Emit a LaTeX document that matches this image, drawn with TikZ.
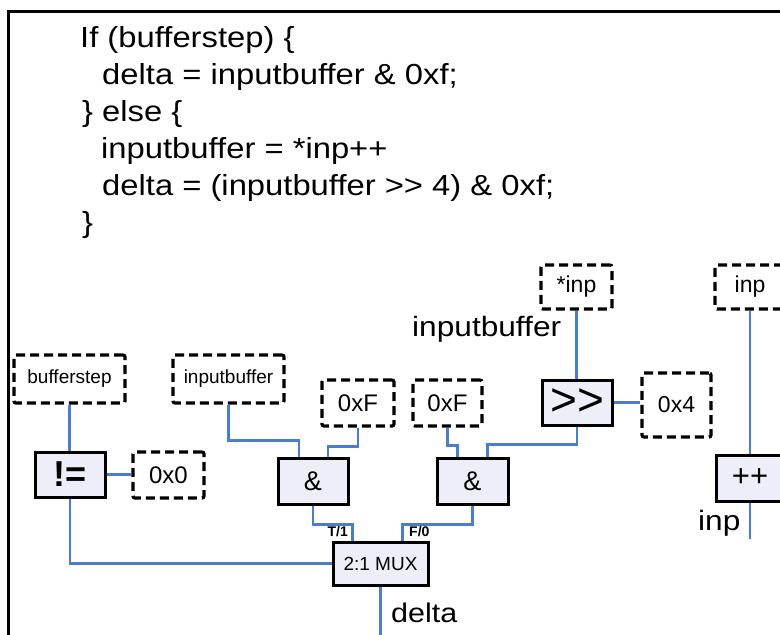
\documentclass[tikz,border=0pt]{standalone}
\usepackage{fontspec}
\setmainfont[FakeStretch=1.13]{Liberation Sans}
\newfontfamily\boxfont{Liberation Sans}
\definecolor{wireblue}{RGB}{74,126,198}
\definecolor{opfill}{RGB}{238,238,248}
\begin{document}
\begin{tikzpicture}[x=1pt,y=-1pt,
  fs/.style={font=\fontsize{#1}{#1}\selectfont},
  bfs/.style={font=\boxfont\fontsize{#1}{#1}\selectfont},
  wire/.style={draw=wireblue,line width=2.6pt},
  constbox/.style={draw=black,line width=3.2pt,dash pattern=on 9pt off 5pt,
    rounded corners=2pt,inner sep=0pt,fill=white},
  opbox/.style={draw=black,line width=3pt,fill=opfill,inner sep=0pt},
  codeline/.style={anchor=base west,inner sep=0pt,fs=29},
  lbl/.style={inner sep=0pt}]
\useasboundingbox (0,0) rectangle (780,635);
\clip (0,0) rectangle (780,635);
\fill[white] (0,0) rectangle (780,635);

% outer frame
\draw[line width=3pt] (8,11) rectangle (820,680);

% source code
\node[codeline] (c1) at (80,47)  {If (bufferstep) \{};
\node[codeline] (c2) at (102,84) {delta = inputbuffer \& 0xf;};
\node[codeline] (c3) at (82,121) {\} else \{};
\node[codeline] (c4) at (101,158) {inputbuffer = *inp++};
\node[codeline] (c5) at (102,195) {delta = (inputbuffer >{}> 4) \& 0xf;};
\node[codeline] (c6) at (82,232) {\}};

% constants and variables
\node[constbox,minimum width=111pt,minimum height=48pt,bfs=19] (bstep) at (69.5,379) {bufferstep};
\node[constbox,minimum width=111pt,minimum height=48pt,bfs=19] (ibuf) at (228.5,379) {inputbuffer};
\node[constbox,minimum width=72pt,minimum height=46pt,bfs=24] (xf1) at (358,403) {0xF};
\node[constbox,minimum width=69pt,minimum height=46pt,bfs=24] (xf2) at (447.5,403) {0xF};
\node[constbox,minimum width=71pt,minimum height=44pt,bfs=23] (sinp) at (576.5,287) {*inp};
\node[constbox,minimum width=70pt,minimum height=44pt,bfs=23] (inpb) at (750,287) {inp};
\node[constbox,minimum width=69pt,minimum height=64pt,bfs=23] (x4) at (676.5,405) {0x4};
\node[constbox,minimum width=71pt,minimum height=46pt,bfs=24] (x0) at (168.5,475) {0x0};

% operators
\node[opbox,minimum width=70pt,minimum height=45pt,font=\boxfont\fontsize{36}{36}\selectfont\bfseries] (ne) at (70,474.5) {!=};
\node[opbox,minimum width=70pt,minimum height=46pt,bfs=27] (and1) at (313,481) {\&};
\node[opbox,minimum width=71pt,minimum height=46pt,bfs=27] (and2) at (472.5,481) {\&};
\node[opbox,minimum width=70pt,minimum height=45pt,bfs=46] (shr) at (577,402.5) {>{}>};
\node[opbox,minimum width=68pt,minimum height=46pt,bfs=31] (inc) at (750,478) {++};
\node[opbox,minimum width=95pt,minimum height=43pt,bfs=19] (mux) at (380.5,563.5) {2:1 MUX};

% wires
\draw[wire] (bstep.south) -- (bstep.south |- ne.north);
\draw[wire] (ne.east) -- (ne.east -| x0.west);
\draw[wire] (ne.south) |- (mux.west);
\draw[wire] (ibuf.south) -- ++(0,36) -| ([xshift=-14pt]and1.north);
\draw[wire] (xf1.south) -- ++(0,19) -| ([xshift=15pt]and1.north);
\draw[wire] (xf2.south) -- ++(0,18) -| ([xshift=-15pt]and2.north);
\draw[wire] (shr.south) -- ++(0,18) -| ([xshift=15pt]and2.north);
\draw[wire] (sinp.south) -- (sinp.south |- shr.north);
\draw[wire] (shr.east) -- (shr.east -| x4.west);
\draw[wire] (and1.south) -- ++(0,19) -| ([xshift=-28pt]mux.north);
\draw[wire] (and2.south) -- ++(0,19) -| ([xshift=22pt]mux.north);
\draw[wire] (inpb.south) -- (inc.north);
\draw[wire] (inc.south) -- ++(0,36) coordinate (incout);
\draw[wire] (mux.south) -- ++(0,60) coordinate (muxout);

% labels
\node[lbl,anchor=base east,font=\boxfont\fontsize{14}{14}\selectfont\bfseries] (t1) at (348,536) {T/1};
\node[lbl,anchor=base west,font=\boxfont\fontsize{14}{14}\selectfont\bfseries] (f0) at (409,536) {F/0};
\node[lbl,anchor=base west,fs=27] (delta) at (391,622) {delta};
\node[lbl,anchor=base west,fs=28] (ibl) at (412,336) {inputbuffer};
\node[lbl,anchor=base west,fs=28] (inpl) at (698,530) {inp};
\end{tikzpicture}
\end{document}
